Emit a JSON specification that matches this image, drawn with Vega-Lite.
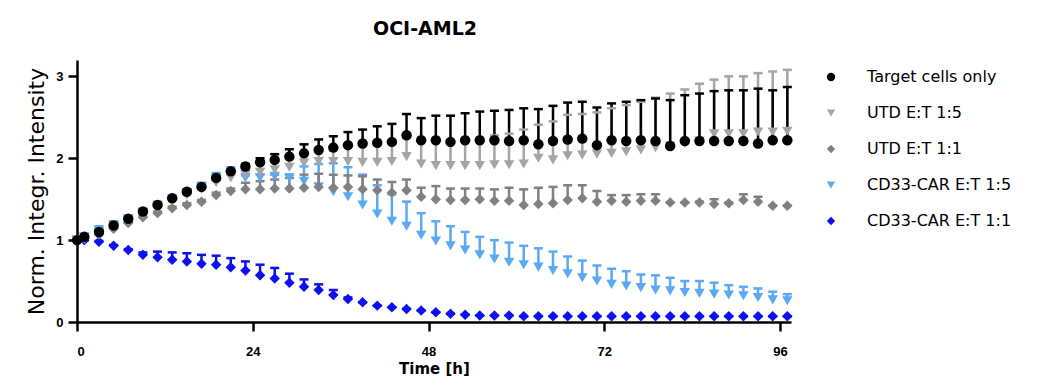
{
"$schema": "https://vega.github.io/schema/vega-lite/v6.json",
"width": 714, "height": 262,
"autosize": {"type": "none"},
"padding": {"left": 77, "top": 60, "right": 272, "bottom": 67},
"background": "white",
"title": {"text": "OCI-AML2", "font": "DejaVu Sans", "fontSize": 19, "fontWeight": "bold", "color": "black", "offset": 21, "dx": -9},
"config": {
 "view": {"stroke": null},
 "axis": {"grid": false, "domainColor": "black", "domainWidth": 2.5, "tickColor": "black", "tickWidth": 2.5, "tickSize": 9, "labelFont": "Liberation Sans", "labelFontWeight": "bold", "labelFontSize": 13, "labelColor": "black", "titleColor": "black"}
},
"datasets": {
"rows": [
{"t":0,"s":"CD33-CAR E:T 1:1","m":1.00,"u":1.00},{"t":1,"s":"CD33-CAR E:T 1:1","m":1.00,"u":1.00},{"t":3,"s":"CD33-CAR E:T 1:1","m":0.98,"u":0.99},{"t":5,"s":"CD33-CAR E:T 1:1","m":0.93,"u":0.94},{"t":7,"s":"CD33-CAR E:T 1:1","m":0.88,"u":0.89},{"t":9,"s":"CD33-CAR E:T 1:1","m":0.82,"u":0.85},{"t":11,"s":"CD33-CAR E:T 1:1","m":0.79,"u":0.86},{"t":13,"s":"CD33-CAR E:T 1:1","m":0.76,"u":0.85},{"t":15,"s":"CD33-CAR E:T 1:1","m":0.74,"u":0.84},{"t":17,"s":"CD33-CAR E:T 1:1","m":0.71,"u":0.82},{"t":19,"s":"CD33-CAR E:T 1:1","m":0.70,"u":0.81},{"t":21,"s":"CD33-CAR E:T 1:1","m":0.67,"u":0.78},{"t":23,"s":"CD33-CAR E:T 1:1","m":0.63,"u":0.74},{"t":25,"s":"CD33-CAR E:T 1:1","m":0.57,"u":0.70},{"t":27,"s":"CD33-CAR E:T 1:1","m":0.53,"u":0.66},{"t":29,"s":"CD33-CAR E:T 1:1","m":0.48,"u":0.59},{"t":31,"s":"CD33-CAR E:T 1:1","m":0.43,"u":0.52},{"t":33,"s":"CD33-CAR E:T 1:1","m":0.39,"u":0.46},{"t":35,"s":"CD33-CAR E:T 1:1","m":0.33,"u":0.39},{"t":37,"s":"CD33-CAR E:T 1:1","m":0.28,"u":0.30},{"t":39,"s":"CD33-CAR E:T 1:1","m":0.24,"u":0.24},{"t":41,"s":"CD33-CAR E:T 1:1","m":0.20,"u":0.20},{"t":43,"s":"CD33-CAR E:T 1:1","m":0.18,"u":0.18},{"t":45,"s":"CD33-CAR E:T 1:1","m":0.16,"u":0.16},{"t":47,"s":"CD33-CAR E:T 1:1","m":0.14,"u":0.14},{"t":49,"s":"CD33-CAR E:T 1:1","m":0.12,"u":0.12},{"t":51,"s":"CD33-CAR E:T 1:1","m":0.10,"u":0.10},{"t":53,"s":"CD33-CAR E:T 1:1","m":0.09,"u":0.09},{"t":55,"s":"CD33-CAR E:T 1:1","m":0.08,"u":0.08},{"t":57,"s":"CD33-CAR E:T 1:1","m":0.08,"u":0.08},{"t":59,"s":"CD33-CAR E:T 1:1","m":0.08,"u":0.08},{"t":61,"s":"CD33-CAR E:T 1:1","m":0.07,"u":0.07},{"t":63,"s":"CD33-CAR E:T 1:1","m":0.07,"u":0.07},{"t":65,"s":"CD33-CAR E:T 1:1","m":0.07,"u":0.07},{"t":67,"s":"CD33-CAR E:T 1:1","m":0.07,"u":0.07},{"t":69,"s":"CD33-CAR E:T 1:1","m":0.07,"u":0.07},{"t":71,"s":"CD33-CAR E:T 1:1","m":0.07,"u":0.07},{"t":73,"s":"CD33-CAR E:T 1:1","m":0.07,"u":0.07},{"t":75,"s":"CD33-CAR E:T 1:1","m":0.07,"u":0.07},{"t":77,"s":"CD33-CAR E:T 1:1","m":0.07,"u":0.07},{"t":79,"s":"CD33-CAR E:T 1:1","m":0.07,"u":0.07},{"t":81,"s":"CD33-CAR E:T 1:1","m":0.07,"u":0.07},{"t":83,"s":"CD33-CAR E:T 1:1","m":0.07,"u":0.07},{"t":85,"s":"CD33-CAR E:T 1:1","m":0.07,"u":0.07},{"t":87,"s":"CD33-CAR E:T 1:1","m":0.07,"u":0.07},{"t":89,"s":"CD33-CAR E:T 1:1","m":0.07,"u":0.07},{"t":91,"s":"CD33-CAR E:T 1:1","m":0.07,"u":0.07},{"t":93,"s":"CD33-CAR E:T 1:1","m":0.07,"u":0.07},{"t":95,"s":"CD33-CAR E:T 1:1","m":0.07,"u":0.07},{"t":97,"s":"CD33-CAR E:T 1:1","m":0.07,"u":0.07},
{"t":0,"s":"CD33-CAR E:T 1:5","m":1.00,"u":1.00},{"t":1,"s":"CD33-CAR E:T 1:5","m":1.04,"u":1.06},{"t":3,"s":"CD33-CAR E:T 1:5","m":1.11,"u":1.17},{"t":5,"s":"CD33-CAR E:T 1:5","m":1.18,"u":1.23},{"t":7,"s":"CD33-CAR E:T 1:5","m":1.26,"u":1.30},{"t":9,"s":"CD33-CAR E:T 1:5","m":1.34,"u":1.38},{"t":11,"s":"CD33-CAR E:T 1:5","m":1.42,"u":1.47},{"t":13,"s":"CD33-CAR E:T 1:5","m":1.50,"u":1.55},{"t":15,"s":"CD33-CAR E:T 1:5","m":1.58,"u":1.62},{"t":17,"s":"CD33-CAR E:T 1:5","m":1.65,"u":1.70},{"t":19,"s":"CD33-CAR E:T 1:5","m":1.76,"u":1.82},{"t":21,"s":"CD33-CAR E:T 1:5","m":1.80,"u":1.89},{"t":23,"s":"CD33-CAR E:T 1:5","m":1.76,"u":1.79},{"t":25,"s":"CD33-CAR E:T 1:5","m":1.76,"u":1.80},{"t":27,"s":"CD33-CAR E:T 1:5","m":1.78,"u":1.80},{"t":29,"s":"CD33-CAR E:T 1:5","m":1.76,"u":1.80},{"t":31,"s":"CD33-CAR E:T 1:5","m":1.72,"u":1.90},{"t":33,"s":"CD33-CAR E:T 1:5","m":1.65,"u":1.93},{"t":35,"s":"CD33-CAR E:T 1:5","m":1.59,"u":1.94},{"t":37,"s":"CD33-CAR E:T 1:5","m":1.53,"u":1.89},{"t":39,"s":"CD33-CAR E:T 1:5","m":1.43,"u":1.80},{"t":41,"s":"CD33-CAR E:T 1:5","m":1.32,"u":1.67},{"t":43,"s":"CD33-CAR E:T 1:5","m":1.23,"u":1.56},{"t":45,"s":"CD33-CAR E:T 1:5","m":1.17,"u":1.47},{"t":47,"s":"CD33-CAR E:T 1:5","m":1.06,"u":1.33},{"t":49,"s":"CD33-CAR E:T 1:5","m":0.99,"u":1.23},{"t":51,"s":"CD33-CAR E:T 1:5","m":0.93,"u":1.17},{"t":53,"s":"CD33-CAR E:T 1:5","m":0.88,"u":1.10},{"t":55,"s":"CD33-CAR E:T 1:5","m":0.82,"u":1.04},{"t":57,"s":"CD33-CAR E:T 1:5","m":0.77,"u":1.00},{"t":59,"s":"CD33-CAR E:T 1:5","m":0.73,"u":0.97},{"t":61,"s":"CD33-CAR E:T 1:5","m":0.70,"u":0.93},{"t":63,"s":"CD33-CAR E:T 1:5","m":0.67,"u":0.90},{"t":65,"s":"CD33-CAR E:T 1:5","m":0.63,"u":0.86},{"t":67,"s":"CD33-CAR E:T 1:5","m":0.59,"u":0.80},{"t":69,"s":"CD33-CAR E:T 1:5","m":0.54,"u":0.75},{"t":71,"s":"CD33-CAR E:T 1:5","m":0.50,"u":0.69},{"t":73,"s":"CD33-CAR E:T 1:5","m":0.46,"u":0.65},{"t":75,"s":"CD33-CAR E:T 1:5","m":0.44,"u":0.62},{"t":77,"s":"CD33-CAR E:T 1:5","m":0.42,"u":0.58},{"t":79,"s":"CD33-CAR E:T 1:5","m":0.39,"u":0.57},{"t":81,"s":"CD33-CAR E:T 1:5","m":0.38,"u":0.54},{"t":83,"s":"CD33-CAR E:T 1:5","m":0.36,"u":0.50},{"t":85,"s":"CD33-CAR E:T 1:5","m":0.35,"u":0.50},{"t":87,"s":"CD33-CAR E:T 1:5","m":0.34,"u":0.48},{"t":89,"s":"CD33-CAR E:T 1:5","m":0.33,"u":0.45},{"t":91,"s":"CD33-CAR E:T 1:5","m":0.32,"u":0.43},{"t":93,"s":"CD33-CAR E:T 1:5","m":0.30,"u":0.41},{"t":95,"s":"CD33-CAR E:T 1:5","m":0.27,"u":0.37},{"t":97,"s":"CD33-CAR E:T 1:5","m":0.26,"u":0.34},
{"t":0,"s":"UTD E:T 1:1","m":1.00,"u":1.00},{"t":1,"s":"UTD E:T 1:1","m":1.02,"u":1.03},{"t":3,"s":"UTD E:T 1:1","m":1.07,"u":1.08},{"t":5,"s":"UTD E:T 1:1","m":1.14,"u":1.15},{"t":7,"s":"UTD E:T 1:1","m":1.21,"u":1.22},{"t":9,"s":"UTD E:T 1:1","m":1.28,"u":1.29},{"t":11,"s":"UTD E:T 1:1","m":1.33,"u":1.35},{"t":13,"s":"UTD E:T 1:1","m":1.39,"u":1.41},{"t":15,"s":"UTD E:T 1:1","m":1.43,"u":1.45},{"t":17,"s":"UTD E:T 1:1","m":1.47,"u":1.49},{"t":19,"s":"UTD E:T 1:1","m":1.55,"u":1.58},{"t":21,"s":"UTD E:T 1:1","m":1.60,"u":1.63},{"t":23,"s":"UTD E:T 1:1","m":1.62,"u":1.70},{"t":25,"s":"UTD E:T 1:1","m":1.62,"u":1.72},{"t":27,"s":"UTD E:T 1:1","m":1.63,"u":1.74},{"t":29,"s":"UTD E:T 1:1","m":1.63,"u":1.76},{"t":31,"s":"UTD E:T 1:1","m":1.64,"u":1.80},{"t":33,"s":"UTD E:T 1:1","m":1.65,"u":1.81},{"t":35,"s":"UTD E:T 1:1","m":1.64,"u":1.80},{"t":37,"s":"UTD E:T 1:1","m":1.65,"u":1.79},{"t":39,"s":"UTD E:T 1:1","m":1.62,"u":1.78},{"t":41,"s":"UTD E:T 1:1","m":1.61,"u":1.74},{"t":43,"s":"UTD E:T 1:1","m":1.58,"u":1.71},{"t":45,"s":"UTD E:T 1:1","m":1.61,"u":1.74},{"t":47,"s":"UTD E:T 1:1","m":1.53,"u":1.64},{"t":49,"s":"UTD E:T 1:1","m":1.50,"u":1.66},{"t":51,"s":"UTD E:T 1:1","m":1.49,"u":1.63},{"t":53,"s":"UTD E:T 1:1","m":1.49,"u":1.63},{"t":55,"s":"UTD E:T 1:1","m":1.50,"u":1.63},{"t":57,"s":"UTD E:T 1:1","m":1.48,"u":1.62},{"t":59,"s":"UTD E:T 1:1","m":1.48,"u":1.64},{"t":61,"s":"UTD E:T 1:1","m":1.43,"u":1.62},{"t":63,"s":"UTD E:T 1:1","m":1.44,"u":1.64},{"t":65,"s":"UTD E:T 1:1","m":1.45,"u":1.65},{"t":67,"s":"UTD E:T 1:1","m":1.49,"u":1.67},{"t":69,"s":"UTD E:T 1:1","m":1.51,"u":1.67},{"t":71,"s":"UTD E:T 1:1","m":1.47,"u":1.60},{"t":73,"s":"UTD E:T 1:1","m":1.48,"u":1.55},{"t":75,"s":"UTD E:T 1:1","m":1.47,"u":1.55},{"t":77,"s":"UTD E:T 1:1","m":1.48,"u":1.56},{"t":79,"s":"UTD E:T 1:1","m":1.48,"u":1.56},{"t":81,"s":"UTD E:T 1:1","m":1.46,"u":1.46},{"t":83,"s":"UTD E:T 1:1","m":1.46,"u":1.46},{"t":85,"s":"UTD E:T 1:1","m":1.46,"u":1.47},{"t":87,"s":"UTD E:T 1:1","m":1.44,"u":1.50},{"t":89,"s":"UTD E:T 1:1","m":1.45,"u":1.46},{"t":91,"s":"UTD E:T 1:1","m":1.49,"u":1.56},{"t":93,"s":"UTD E:T 1:1","m":1.47,"u":1.53},{"t":95,"s":"UTD E:T 1:1","m":1.42,"u":1.42},{"t":97,"s":"UTD E:T 1:1","m":1.42,"u":1.42},
{"t":0,"s":"UTD E:T 1:5","m":1.00,"u":1.00},{"t":1,"s":"UTD E:T 1:5","m":1.03,"u":1.04},{"t":3,"s":"UTD E:T 1:5","m":1.09,"u":1.11},{"t":5,"s":"UTD E:T 1:5","m":1.16,"u":1.18},{"t":7,"s":"UTD E:T 1:5","m":1.24,"u":1.26},{"t":9,"s":"UTD E:T 1:5","m":1.32,"u":1.34},{"t":11,"s":"UTD E:T 1:5","m":1.40,"u":1.42},{"t":13,"s":"UTD E:T 1:5","m":1.48,"u":1.50},{"t":15,"s":"UTD E:T 1:5","m":1.55,"u":1.57},{"t":17,"s":"UTD E:T 1:5","m":1.62,"u":1.64},{"t":19,"s":"UTD E:T 1:5","m":1.70,"u":1.73},{"t":21,"s":"UTD E:T 1:5","m":1.76,"u":1.80},{"t":23,"s":"UTD E:T 1:5","m":1.80,"u":1.88},{"t":25,"s":"UTD E:T 1:5","m":1.83,"u":1.94},{"t":27,"s":"UTD E:T 1:5","m":1.86,"u":1.97},{"t":29,"s":"UTD E:T 1:5","m":1.89,"u":2.01},{"t":31,"s":"UTD E:T 1:5","m":1.94,"u":2.05},{"t":33,"s":"UTD E:T 1:5","m":1.96,"u":2.09},{"t":35,"s":"UTD E:T 1:5","m":1.96,"u":2.12},{"t":37,"s":"UTD E:T 1:5","m":1.96,"u":2.15},{"t":39,"s":"UTD E:T 1:5","m":1.95,"u":2.17},{"t":41,"s":"UTD E:T 1:5","m":1.95,"u":2.19},{"t":43,"s":"UTD E:T 1:5","m":1.96,"u":2.19},{"t":45,"s":"UTD E:T 1:5","m":2.02,"u":2.25},{"t":47,"s":"UTD E:T 1:5","m":1.93,"u":2.21},{"t":49,"s":"UTD E:T 1:5","m":1.91,"u":2.21},{"t":51,"s":"UTD E:T 1:5","m":1.91,"u":2.20},{"t":53,"s":"UTD E:T 1:5","m":1.91,"u":2.21},{"t":55,"s":"UTD E:T 1:5","m":1.91,"u":2.21},{"t":57,"s":"UTD E:T 1:5","m":1.92,"u":2.28},{"t":59,"s":"UTD E:T 1:5","m":1.92,"u":2.30},{"t":61,"s":"UTD E:T 1:5","m":1.93,"u":2.35},{"t":63,"s":"UTD E:T 1:5","m":2.00,"u":2.41},{"t":65,"s":"UTD E:T 1:5","m":1.98,"u":2.45},{"t":67,"s":"UTD E:T 1:5","m":2.03,"u":2.53},{"t":69,"s":"UTD E:T 1:5","m":2.04,"u":2.54},{"t":71,"s":"UTD E:T 1:5","m":2.05,"u":2.56},{"t":73,"s":"UTD E:T 1:5","m":2.06,"u":2.61},{"t":75,"s":"UTD E:T 1:5","m":2.08,"u":2.65},{"t":77,"s":"UTD E:T 1:5","m":2.10,"u":2.69},{"t":79,"s":"UTD E:T 1:5","m":2.13,"u":2.74},{"t":81,"s":"UTD E:T 1:5","m":2.15,"u":2.79},{"t":83,"s":"UTD E:T 1:5","m":2.18,"u":2.84},{"t":85,"s":"UTD E:T 1:5","m":2.21,"u":2.91},{"t":87,"s":"UTD E:T 1:5","m":2.30,"u":2.96},{"t":89,"s":"UTD E:T 1:5","m":2.30,"u":3.00},{"t":91,"s":"UTD E:T 1:5","m":2.30,"u":3.00},{"t":93,"s":"UTD E:T 1:5","m":2.32,"u":3.04},{"t":95,"s":"UTD E:T 1:5","m":2.32,"u":3.06},{"t":97,"s":"UTD E:T 1:5","m":2.33,"u":3.08},
{"t":0,"s":"Target cells only","m":1.00,"u":1.00},{"t":1,"s":"Target cells only","m":1.04,"u":1.05},{"t":3,"s":"Target cells only","m":1.10,"u":1.12},{"t":5,"s":"Target cells only","m":1.18,"u":1.20},{"t":7,"s":"Target cells only","m":1.26,"u":1.28},{"t":9,"s":"Target cells only","m":1.35,"u":1.37},{"t":11,"s":"Target cells only","m":1.43,"u":1.45},{"t":13,"s":"Target cells only","m":1.51,"u":1.53},{"t":15,"s":"Target cells only","m":1.59,"u":1.61},{"t":17,"s":"Target cells only","m":1.65,"u":1.67},{"t":19,"s":"Target cells only","m":1.76,"u":1.78},{"t":21,"s":"Target cells only","m":1.84,"u":1.86},{"t":23,"s":"Target cells only","m":1.90,"u":1.93},{"t":25,"s":"Target cells only","m":1.95,"u":2.00},{"t":27,"s":"Target cells only","m":1.98,"u":2.05},{"t":29,"s":"Target cells only","m":2.02,"u":2.11},{"t":31,"s":"Target cells only","m":2.06,"u":2.17},{"t":33,"s":"Target cells only","m":2.10,"u":2.23},{"t":35,"s":"Target cells only","m":2.13,"u":2.27},{"t":37,"s":"Target cells only","m":2.16,"u":2.32},{"t":39,"s":"Target cells only","m":2.18,"u":2.35},{"t":41,"s":"Target cells only","m":2.19,"u":2.39},{"t":43,"s":"Target cells only","m":2.20,"u":2.42},{"t":45,"s":"Target cells only","m":2.28,"u":2.54},{"t":47,"s":"Target cells only","m":2.22,"u":2.49},{"t":49,"s":"Target cells only","m":2.22,"u":2.52},{"t":51,"s":"Target cells only","m":2.20,"u":2.52},{"t":53,"s":"Target cells only","m":2.22,"u":2.55},{"t":55,"s":"Target cells only","m":2.22,"u":2.57},{"t":57,"s":"Target cells only","m":2.22,"u":2.58},{"t":59,"s":"Target cells only","m":2.21,"u":2.59},{"t":61,"s":"Target cells only","m":2.22,"u":2.61},{"t":63,"s":"Target cells only","m":2.17,"u":2.60},{"t":65,"s":"Target cells only","m":2.21,"u":2.64},{"t":67,"s":"Target cells only","m":2.23,"u":2.68},{"t":69,"s":"Target cells only","m":2.24,"u":2.69},{"t":71,"s":"Target cells only","m":2.16,"u":2.62},{"t":73,"s":"Target cells only","m":2.22,"u":2.67},{"t":75,"s":"Target cells only","m":2.21,"u":2.69},{"t":77,"s":"Target cells only","m":2.22,"u":2.71},{"t":79,"s":"Target cells only","m":2.21,"u":2.73},{"t":81,"s":"Target cells only","m":2.15,"u":2.71},{"t":83,"s":"Target cells only","m":2.21,"u":2.77},{"t":85,"s":"Target cells only","m":2.21,"u":2.79},{"t":87,"s":"Target cells only","m":2.21,"u":2.82},{"t":89,"s":"Target cells only","m":2.21,"u":2.83},{"t":91,"s":"Target cells only","m":2.21,"u":2.83},{"t":93,"s":"Target cells only","m":2.18,"u":2.85},{"t":95,"s":"Target cells only","m":2.22,"u":2.83},{"t":97,"s":"Target cells only","m":2.22,"u":2.87}
]
},
"data": {"name": "rows"},
"encoding": {
 "x": {"field": "t", "type": "quantitative", "scale": {"domain": [0, 97.5], "nice": false, "zero": false},
  "axis": {"values": [0, 24, 48, 72, 96], "title": "Time [h]", "titleFont": "DejaVu Sans", "titleFontSize": 15, "titleFontWeight": "bold", "labelPadding": 14, "titlePadding": 3}},
 "color": {"field": "s", "type": "nominal",
  "scale": {"domain": ["Target cells only", "UTD E:T 1:5", "UTD E:T 1:1", "CD33-CAR E:T 1:5", "CD33-CAR E:T 1:1"], "range": ["#000000", "#a4a4a4", "#808080", "#5aa8f6", "#0c10f0"]},
  "legend": {"title": null, "orient": "none", "legendX": 746, "legendY": 9, "labelFont": "DejaVu Sans", "labelFontSize": 16, "labelColor": "black", "rowPadding": 20, "symbolSize": 70, "labelOffset": 28, "symbolOpacity": 1, "symbolStrokeWidth": 0}}
},
"layer": [
 {"mark": {"type": "rule", "strokeWidth": 2.5},
  "encoding": {"y": {"field": "m", "type": "quantitative", "scale": {"domain": [0, 3.2], "nice": false}, "axis": {"values": [0, 1, 2, 3], "format": "d", "title": "Norm. Integr. Intensity", "titleFont": "DejaVu Sans", "titleFontSize": 22, "titleFontWeight": "normal", "labelPadding": 5, "titlePadding": 7}}, "y2": {"field": "u"}}},
 {"mark": {"type": "tick", "orient": "horizontal", "size": 9, "thickness": 2.5, "opacity": 1},
  "encoding": {"y": {"field": "u", "type": "quantitative"}}},
 {"mark": {"type": "point", "filled": true, "size": 110, "opacity": 1, "strokeWidth": 0},
  "encoding": {
   "y": {"field": "m", "type": "quantitative"},
   "shape": {"field": "s", "type": "nominal",
    "scale": {"domain": ["Target cells only", "UTD E:T 1:5", "UTD E:T 1:1", "CD33-CAR E:T 1:5", "CD33-CAR E:T 1:1"], "range": ["circle", "triangle-down", "diamond", "triangle-down", "diamond"]},
    "legend": {"title": null, "orient": "none", "legendX": 746, "legendY": 9, "labelFont": "DejaVu Sans", "labelFontSize": 16, "labelColor": "black", "rowPadding": 20, "symbolSize": 70, "labelOffset": 28, "symbolOpacity": 1, "symbolStrokeWidth": 0}}
  }}
]
}
